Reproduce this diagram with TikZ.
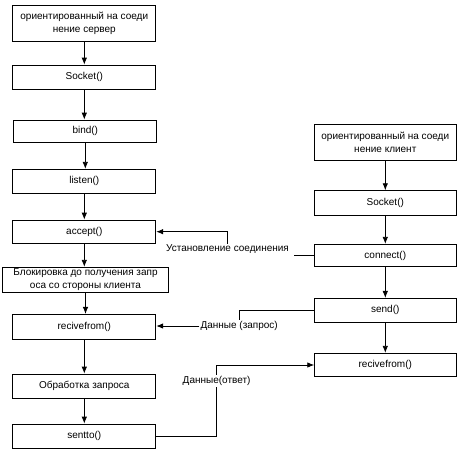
\documentclass[tikz,border=0pt]{standalone}
\usepackage{fontspec}
\setmainfont{Liberation Sans}
\usetikzlibrary{arrows.meta}
\begin{document}
\begin{tikzpicture}[x=1pt,y=-1pt,
  font=\fontsize{10}{12.5}\selectfont,
  box/.style={draw,line width=0.8pt,minimum width=143pt,inner sep=0pt,align=center},
  lbl/.style={inner sep=1pt},
  arr/.style={line width=0.8pt,-{Latex[length=7pt,width=5.5pt]}},
  ln/.style={line width=0.8pt}]
\useasboundingbox (0,0) rectangle (464,450);
% server column
\node[box,minimum height=36.7pt] (s1) at (84.3,23.3) {ориентированный на соеди\\нение сервер};
\node[box,minimum height=24.3pt] (s2) at (84.3,77.2) {Socket()};
\node[box,minimum height=22.3pt] (s3) at (85.3,131.2) {bind()};
\node[box,minimum height=24pt] (s4) at (84.3,181.3) {listen()};
\node[box,minimum height=23.3pt] (s5) at (84.3,231.7) {accept()};
\node[box,minimum height=25pt,minimum width=165.6pt] (s6) at (85.5,279.8) {Блокировка до получения запр\\оса со стороны клиента};
\node[box,minimum height=24.7pt] (s7) at (84.3,326.7) {recivefrom()};
\node[box,minimum height=24.3pt] (s8) at (84.3,386.2) {Обработка запроса};
\node[box,minimum height=24.3pt] (s9) at (84.3,436.2) {sentto()};
% client column
\node[box,minimum width=141.3pt,minimum height=36.4pt] (c1) at (385.3,142.5) {ориентированный на соеди\\нение клиент};
\node[box,minimum width=141.3pt,minimum height=24.3pt] (c2) at (385.3,202.8) {Socket()};
\node[box,minimum width=141.3pt,minimum height=22.4pt] (c3) at (385.3,255.5) {connect()};
\node[box,minimum width=141.3pt,minimum height=23.7pt] (c4) at (385.3,310.2) {send()};
\node[box,minimum width=141.3pt,minimum height=23.4pt] (c5) at (385.3,365) {recivefrom()};
% vertical arrows
\foreach \a/\b in {s1/s2,s2/s3,s3/s4,s4/s5,s5/s6,s6/s7,s7/s8,s8/s9,c1/c2,c2/c3,c3/c4,c4/c5}
  \draw[arr] (\a.south) -- (\a.south |- \b.north);
% connection
\node[lbl] (l1) at (227.5,249.5) {Установление соединения};
\draw[ln] (c3.west) -- ([xshift=4pt]l1.east |- c3.west);
\draw[arr] (l1.north) |- (s5.east);
% request
\node[lbl] (l2) at (239.2,326) {Данные (запрос)};
\draw[ln] (c4.west) -| (l2.north);
\draw[arr] (l2.west) -- (l2.west -| s7.east);
% answer
\coordinate (k3) at (216.6,381);
\draw[arr] (s9.east) -| (k3) |- (c5.west);
\node[lbl,fill=white] (l3) at (k3) {Данные(ответ)};
\end{tikzpicture}
\end{document}
